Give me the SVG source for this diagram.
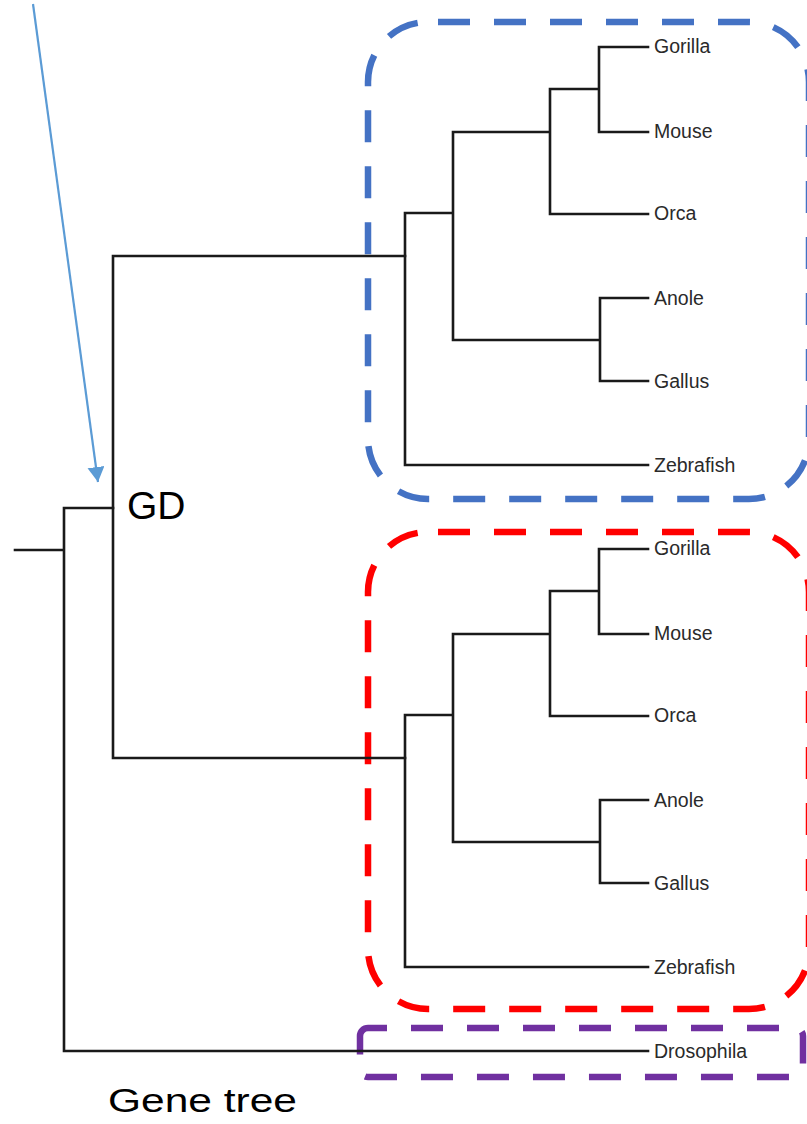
<svg xmlns="http://www.w3.org/2000/svg" width="807" height="1124" viewBox="0 0 807 1124">
  <defs>
    <style>
      .edge { fill: none; stroke: #1a1a1a; stroke-width: 2.6; stroke-linecap: square; }
      .leaf { font-family: "Liberation Sans", Arial, sans-serif; font-size: 19.5px; fill: #2a2a2a; }
      .big { font-family: "Liberation Sans", Arial, sans-serif; fill: #000; }
      .box { fill: none; stroke-width: 6.5; stroke-dasharray: 32 24; }
    </style>
    <marker id="arrowhead" markerUnits="userSpaceOnUse" markerWidth="18" markerHeight="18" refX="15" refY="8.5" orient="auto">
      <polygon points="0,0 15,8.5 0,17" fill="#5b9bd5"/>
    </marker>
  </defs>

  <g id="clade-boxes">
    <rect id="box-blue" class="box" x="368" y="22" width="441" height="477" rx="60" stroke="#4472c4" stroke-dashoffset="46"/>
    <rect id="box-red" class="box" x="368" y="532" width="441" height="477" rx="60" stroke="#ff0000" stroke-dashoffset="46"/>
    <rect id="box-purple" class="box" x="360" y="1028" width="443" height="49" rx="8" stroke="#7030a0" stroke-dashoffset="13"/>
  </g>

  <g id="connectors">
    <!-- root -->
    <path class="edge" d="M15,550 H64 M64,508 V1051 M64,508 H113 M64,1051 H648"/>
    <!-- GD node -->
    <path class="edge" d="M113,256 V758 M113,256 H405 M113,758 H405"/>
    <!-- top subtree -->
    <path class="edge" d="M405,213 V465 M405,465 H648 M405,213 H453 M453,132 V340 M453,132 H550 M453,340 H600 M550,89 V214 M550,214 H648 M550,89 H599 M599,47 V132 M599,47 H648 M599,132 H648 M600,298 V381 M600,298 H648 M600,381 H648"/>
    <!-- bottom subtree -->
    <path class="edge" d="M405,715 V967 M405,967 H648 M405,715 H453 M453,634 V842 M453,634 H550 M453,842 H600 M550,591 V716 M550,716 H648 M550,591 H599 M599,549 V634 M599,549 H648 M599,634 H648 M600,800 V883 M600,800 H648 M600,883 H648"/>
    <!-- annotation arrow -->
    <line x1="33" y1="4" x2="98" y2="482" stroke="#5b9bd5" stroke-width="2.2" marker-end="url(#arrowhead)"/>
  </g>

  <g id="leaf-gorilla-1"><text class="leaf" x="654" y="53">Gorilla</text></g>
  <g id="leaf-mouse-1"><text class="leaf" x="654" y="138">Mouse</text></g>
  <g id="leaf-orca-1"><text class="leaf" x="654" y="220">Orca</text></g>
  <g id="leaf-anole-1"><text class="leaf" x="654" y="305">Anole</text></g>
  <g id="leaf-gallus-1"><text class="leaf" x="654" y="388">Gallus</text></g>
  <g id="leaf-zebrafish-1"><text class="leaf" x="654" y="472">Zebrafish</text></g>

  <g id="leaf-gorilla-2"><text class="leaf" x="654" y="555">Gorilla</text></g>
  <g id="leaf-mouse-2"><text class="leaf" x="654" y="640">Mouse</text></g>
  <g id="leaf-orca-2"><text class="leaf" x="654" y="722">Orca</text></g>
  <g id="leaf-anole-2"><text class="leaf" x="654" y="807">Anole</text></g>
  <g id="leaf-gallus-2"><text class="leaf" x="654" y="890">Gallus</text></g>
  <g id="leaf-zebrafish-2"><text class="leaf" x="654" y="974">Zebrafish</text></g>

  <g id="leaf-drosophila"><text class="leaf" x="654" y="1058">Drosophila</text></g>

  <g id="label-gd"><text class="big" x="127" y="519" font-size="39">GD</text></g>
  <g id="label-gene-tree"><text class="big" x="108" y="1112" font-size="34" textLength="189" lengthAdjust="spacingAndGlyphs">Gene tree</text></g>
</svg>
